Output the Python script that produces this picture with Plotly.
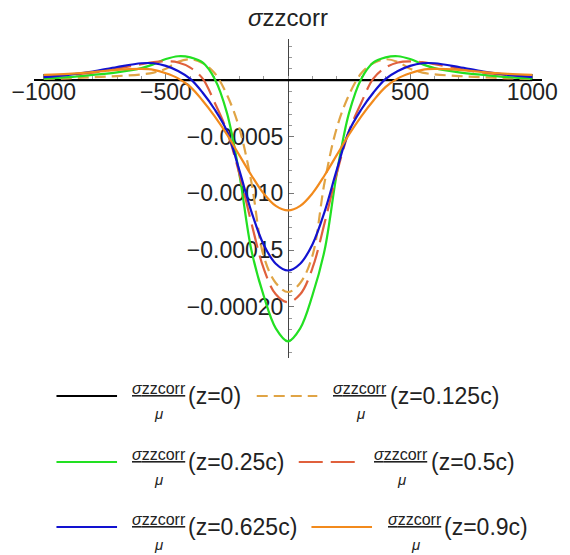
import plotly.graph_objects as go

# ---------------- data ----------------
x_vals = [-1000, -900, -800, -700, -600, -550, -500, -450, -400, -350, -300, -250,
          -200, -150, -100, -50, 0, 50, 100, 150, 200, 250, 300, 350, 400, 450,
          500, 550, 600, 700, 800, 900, 1000]

z0 = [0.0] * 33

z0125 = [1.0e-6, 1.5e-6, 2.5e-6, 3.5e-6, 5.0e-6, 6.5e-6, 10.0e-6, 16.0e-6, 18.3e-6, 15.0e-6,
         6.0e-6, -13.0e-6, -42.0e-6, -90.0e-6, -155.0e-6, -179.0e-6, -187.0e-6,
         -179.0e-6, -155.0e-6, -90.0e-6, -42.0e-6, -13.0e-6, 6.0e-6, 15.0e-6, 18.3e-6,
         16.0e-6, 10.0e-6, 6.5e-6, 5.0e-6, 3.5e-6, 2.5e-6, 1.5e-6, 1.0e-6]

z025 = [1.2e-6, 2.5e-6, 4.5e-6, 6.8e-6, 10.5e-6, 14.0e-6, 18.5e-6, 21.0e-6, 20.0e-6, 15.5e-6,
        1.0e-6, -29.0e-6, -82.0e-6, -150.0e-6, -190.0e-6, -219.0e-6, -230.5e-6,
        -219.0e-6, -190.0e-6, -150.0e-6, -82.0e-6, -29.0e-6, 1.0e-6, 15.5e-6, 20.0e-6,
        21.0e-6, 18.5e-6, 14.0e-6, 10.5e-6, 6.8e-6, 4.5e-6, 2.5e-6, 1.2e-6]

z05 = [3.0e-6, 4.5e-6, 6.5e-6, 10.0e-6, 14.0e-6, 15.8e-6, 16.5e-6, 15.5e-6, 11.0e-6, 1.5e-6,
       -20.0e-6, -45.0e-6, -82.0e-6, -126.0e-6, -166.0e-6, -189.0e-6, -196.0e-6,
       -189.0e-6, -166.0e-6, -126.0e-6, -82.0e-6, -45.0e-6, -20.0e-6, 1.5e-6, 11.0e-6,
       15.5e-6, 16.5e-6, 15.8e-6, 14.0e-6, 10.0e-6, 6.5e-6, 4.5e-6, 3.0e-6]

z0625 = [2.5e-6, 4.5e-6, 7.5e-6, 11.5e-6, 14.8e-6, 14.8e-6, 12.5e-6, 8.0e-6, 1.0e-6, -11.0e-6,
         -26.0e-6, -45.0e-6, -79.0e-6, -116.0e-6, -145.0e-6, -162.0e-6, -168.0e-6,
         -162.0e-6, -145.0e-6, -116.0e-6, -79.0e-6, -45.0e-6, -26.0e-6, -11.0e-6, 1.0e-6,
         8.0e-6, 12.5e-6, 14.8e-6, 14.8e-6, 11.5e-6, 7.5e-6, 4.5e-6, 2.5e-6]

z09 = [4.5e-6, 5.5e-6, 7.0e-6, 9.0e-6, 9.8e-6, 9.0e-6, 6.0e-6, 1.5e-6, -6.0e-6, -18.0e-6,
       -32.0e-6, -48.0e-6, -66.0e-6, -84.0e-6, -100.0e-6, -111.0e-6, -115.0e-6,
       -111.0e-6, -100.0e-6, -84.0e-6, -66.0e-6, -48.0e-6, -32.0e-6, -18.0e-6, -6.0e-6,
       1.5e-6, 6.0e-6, 9.0e-6, 9.8e-6, 9.0e-6, 7.0e-6, 5.5e-6, 4.5e-6]

series_labels = ["(z=0)", "(z=0.125c)", "(z=0.25c)", "(z=0.5c)", "(z=0.625c)", "(z=0.9c)"]
series_values = [z0, z0125, z025, z05, z0625, z09]

x_tick_vals = [-1000, -500, 500, 1000]
x_tick_text = ["\u22121000", "\u2212500", "500", "1000"]
x_minor_vals = [-900, -800, -700, -600, -400, -300, -200, -100, 0, 100, 200, 300, 400,
                600, 700, 800, 900]
y_tick_vals = [-0.00005, -0.00010, -0.00015, -0.00020]
y_tick_text = ["\u22120.00005", "\u22120.00010", "\u22120.00015", "\u22120.00020"]
y_minor_vals = [0.00003, 0.00002, 0.00001, -0.00001, -0.00002, -0.00003, -0.00004,
                -0.00006, -0.00007, -0.00008, -0.00009, -0.00011, -0.00012, -0.00013,
                -0.00014, -0.00016, -0.00017, -0.00018, -0.00019, -0.00021, -0.00022,
                -0.00023, -0.00024]

title_text = "<i>\u03c3</i>zzcorr"
numerator_text = "<u><i>\u03c3</i>zzcorr</u>"
denominator_text = "<i>\u03bc</i>"

# ---------------- styles ----------------
colors = ["#000000", "#E0A445", "#22E022", "#E0603C", "#1212D0", "#F28A1C"]
dashes = ["solid", "11px,6px", "solid", "24px,8px", "solid", "solid"]
widths = [2.2, 2.2, 2.2, 2.2, 2.2, 2.2]

W, H = 570, 555
ML, MR, MT, MB = 31, 19, 39, 197
PW, PH = W - ML - MR, H - MT - MB
X_RANGE = [-1040, 1040]
Y_RANGE = [-2.452e-4, 3.62e-5]
FONT = "Liberation Sans, Arial, sans-serif"


def px_x(px):
    return (px - ML) / PW


def px_y(py):
    return (H - MB - py) / PH


fig = go.Figure()
for vals, lab, col, dsh, wd in zip(series_values, series_labels, colors, dashes, widths):
    fig.add_trace(go.Scatter(
        x=x_vals, y=vals, mode="lines", name=lab,
        line=dict(color=col, dash=dsh, width=wd, shape="spline", smoothing=1.0),
        hoverinfo="skip", showlegend=False,
    ))

# ---------------- legend built as keys + formula text ----------------
# (sample x0, sample x1, numerator centre, text left, row centre y) in pixels
legend_layout = [
    (54, 116, 158.5, 187, 396),
    (259, 321, 365, 393, 396),
    (54, 116, 158.5, 187, 462),
    (302, 364, 407, 435, 462),
    (54, 116, 158.5, 187, 527),
    (315, 377, 421, 449, 527),
]
shapes = []
annotations = []
for (x0, x1, nc, tl, yc), lab, col, dsh, wd in zip(legend_layout, series_labels, colors,
                                                     dashes, widths):
    shapes.append(dict(type="line", xref="paper", yref="paper",
                       x0=px_x(x0), x1=px_x(x1), y0=px_y(yc), y1=px_y(yc),
                       line=dict(color=col, dash=dsh, width=wd)))
    annotations.append(dict(text=numerator_text, xref="paper", yref="paper",
                            x=px_x(nc), y=px_y(yc - 8), xanchor="center", yanchor="middle",
                            showarrow=False, font=dict(family=FONT, size=16, color="#222")))
    annotations.append(dict(text=denominator_text, xref="paper", yref="paper",
                            x=px_x(nc), y=px_y(yc + 17), xanchor="center", yanchor="middle",
                            showarrow=False, font=dict(family=FONT, size=15, color="#222")))
    annotations.append(dict(text=lab, xref="paper", yref="paper",
                            x=px_x(tl), y=px_y(yc), xanchor="left", yanchor="middle",
                            showarrow=False, font=dict(family=FONT, size=23, color="#222")))

x_axis_pos = (0 - Y_RANGE[0]) / (Y_RANGE[1] - Y_RANGE[0])

fig.update_layout(
    width=W, height=H,
    margin=dict(l=ML, r=MR, t=MT, b=MB, pad=0),
    paper_bgcolor="white", plot_bgcolor="white",
    showlegend=False,
    title=dict(text=title_text, x=0.5, xref="paper", xanchor="center",
               y=1 - 18 / H, yref="container", yanchor="middle",
               font=dict(family=FONT, size=24, color="#222")),
    xaxis=dict(range=X_RANGE, anchor="free", position=x_axis_pos,
               showgrid=False, zeroline=False,
               showline=True, linecolor="#000", linewidth=2,
               tickmode="array", tickvals=x_tick_vals, ticktext=x_tick_text,
               ticks="inside", ticklen=5, tickwidth=1, tickcolor="#777",
               minor=dict(tickmode="array", tickvals=x_minor_vals, ticks="inside",
                          ticklen=3, tickwidth=1, tickcolor="#999"),
               tickfont=dict(family=FONT, size=23, color="#222"),
               ticklabelstandoff=-9,
               layer="below traces"),
    yaxis=dict(range=Y_RANGE, anchor="free", position=0.5,
               showgrid=False, zeroline=False,
               showline=True, linecolor="#444", linewidth=1,
               tickmode="array", tickvals=y_tick_vals, ticktext=y_tick_text,
               ticks="inside", ticklen=5, tickwidth=1, tickcolor="#777",
               minor=dict(tickmode="array", tickvals=y_minor_vals, ticks="inside",
                          ticklen=3, tickwidth=1, tickcolor="#999"),
               tickfont=dict(family=FONT, size=23, color="#222"),
               layer="below traces"),
    shapes=shapes,
    annotations=annotations,
)

fig.write_html("out.html")
